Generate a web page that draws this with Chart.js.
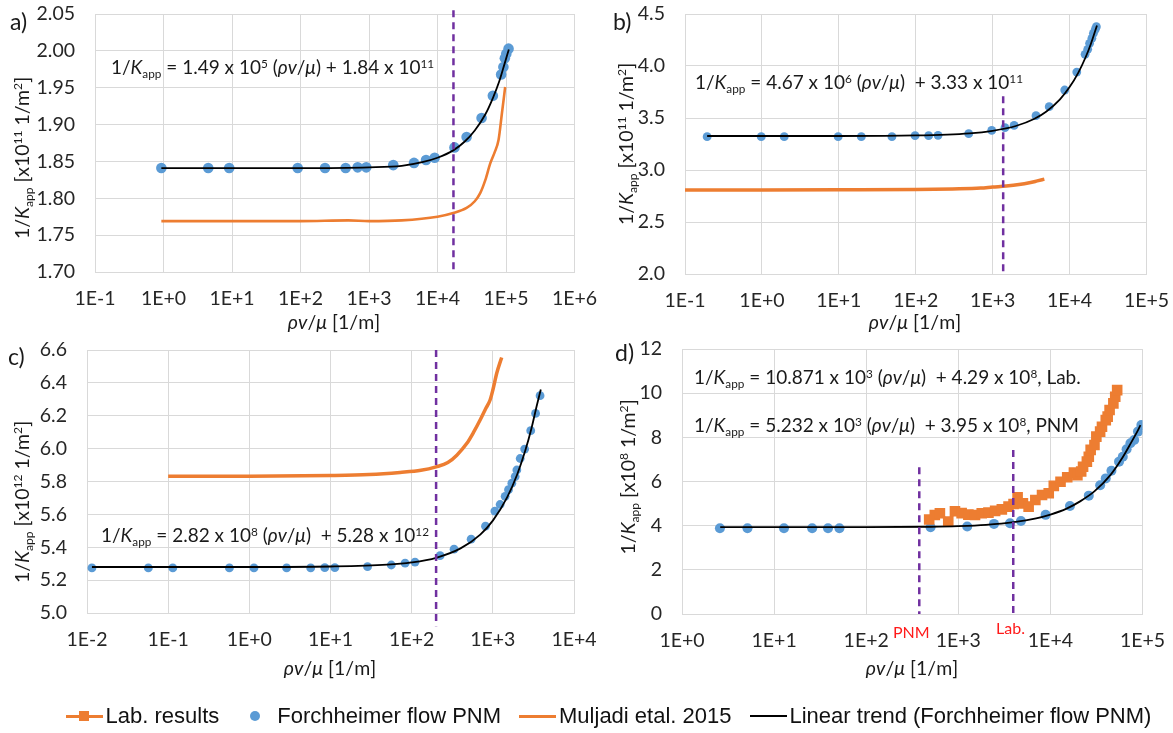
<!DOCTYPE html>
<html>
<head>
<meta charset="utf-8">
<script src="https://cdn.jsdelivr.net/npm/chart.js@4.4.1/dist/chart.umd.min.js"></script>
<style>
  html, body { margin: 0; padding: 0; background: #fff; }
  #page { position: relative; width: 1173px; height: 733px; overflow: hidden;
          font-family: Lato, "Open Sans", sans-serif; color: #1a1a1a; }
  canvas { position: absolute; left: 0; top: 0; }
  .t { position: absolute; white-space: nowrap; line-height: 24px; }
  .eq { font-size: 19px; }
  .lbl { font-size: 23px; }
  .ytitle { font-size: 19.5px; transform: translate(-50%, -50%) rotate(-90deg); }
  .xtitle { font-size: 19.5px; transform: translate(-50%, -50%); }
  .red { color: #ff1a1a; font-size: 16px; }
  .t sub { font-size: 0.62em; position: relative; top: 0.35em; vertical-align: baseline; }
  .t sup { font-size: 0.62em; position: relative; top: -0.55em; vertical-align: baseline; }
  #legend { position: absolute; left: 22px; width: 1173px; top: 700px; height: 32px;
            display: flex; justify-content: center; align-items: center;
            font-family: "Liberation Sans", Arial, sans-serif; font-size: 22px; color: #111; }
  #legend .item { display: flex; align-items: center; margin: 0 9px; }
  #legend .mk { position: relative; width: 37px; height: 14px; margin-right: 3px; }
  #legend .ln { position: absolute; left: 0; right: 0; top: 50%; }
  #legend .sq { position: absolute; left: 13px; top: 2px; width: 10px; height: 10px; background: #ED7D31; }
  #legend .dot { position: absolute; left: 13px; top: 2px; width: 10px; height: 10px; border-radius: 50%; background: #5B9BD5; }
</style>
</head>
<body>
<div id="page">
  <canvas id="ca" width="1173" height="733"></canvas>
  <canvas id="cb" width="1173" height="733"></canvas>
  <canvas id="cc" width="1173" height="733"></canvas>
  <canvas id="cd" width="1173" height="733"></canvas>

  <div class="t lbl" style="left:10px;top:9px;">a)</div>
  <div class="t lbl" style="left:613px;top:9px;">b)</div>
  <div class="t lbl" style="left:8px;top:344px;">c)</div>
  <div class="t lbl" style="left:615px;top:340px;">d)</div>

  <div class="t eq" style="left:111px;top:55px;">1/<i>K</i><sub>app</sub> = 1.49 x 10<sup>5</sup> (<i>ρv</i>/<i>μ</i>) + 1.84 x 10<sup>11</sup></div>
  <div class="t eq" style="left:695px;top:70px;">1/<i>K</i><sub>app</sub> = 4.67 x 10<sup>6</sup> (<i>ρv</i>/<i>μ</i>) &nbsp;+ 3.33 x 10<sup>11</sup></div>
  <div class="t eq" style="left:101px;top:523px;">1/<i>K</i><sub>app</sub> = 2.82 x 10<sup>8</sup> (<i>ρv</i>/<i>μ</i>) &nbsp;+ 5.28 x 10<sup>12</sup></div>
  <div class="t eq" style="left:694px;top:365px;">1/<i>K</i><sub>app</sub> = 10.871 x 10<sup>3</sup> (<i>ρv</i>/<i>μ</i>) &nbsp;+ 4.29 x 10<sup>8</sup>, Lab.</div>
  <div class="t eq" style="left:694px;top:413px;">1/<i>K</i><sub>app</sub> = 5.232 x 10<sup>3</sup> (<i>ρv</i>/<i>μ</i>) &nbsp;+ 3.95 x 10<sup>8</sup>, PNM</div>

  <div class="t ytitle" style="left:23px;top:158px;">1/<i>K</i><sub>app</sub> [x10<sup>11</sup> 1/m<sup>2</sup>]</div>
  <div class="t ytitle" style="left:627px;top:144px;">1/<i>K</i><sub>app</sub> [x10<sup>11</sup> 1/m<sup>2</sup>]</div>
  <div class="t ytitle" style="left:23px;top:502px;">1/<i>K</i><sub>app</sub> [x10<sup>12</sup> 1/m<sup>2</sup>]</div>
  <div class="t ytitle" style="left:629px;top:477px;">1/<i>K</i><sub>app</sub> [x10<sup>8</sup> 1/m<sup>2</sup>]</div>

  <div class="t xtitle" style="left:334px;top:322px;"><i>ρv</i>/<i>μ</i> [1/m]</div>
  <div class="t xtitle" style="left:915px;top:322px;"><i>ρv</i>/<i>μ</i> [1/m]</div>
  <div class="t xtitle" style="left:330px;top:668px;"><i>ρv</i>/<i>μ</i> [1/m]</div>
  <div class="t xtitle" style="left:912px;top:668px;"><i>ρv</i>/<i>μ</i> [1/m]</div>

  <div class="t red" style="left:893px;top:620px;">PNM</div>
  <div class="t red" style="left:996px;top:616px;">Lab.</div>

  <div id="legend">
    <div class="item"><span class="mk"><span class="ln" style="height:3px;margin-top:-1.5px;background:#ED7D31;"></span><span class="sq"></span></span>Lab. results</div>
    <div class="item"><span class="mk"><span class="dot"></span></span>Forchheimer flow PNM</div>
    <div class="item"><span class="mk"><span class="ln" style="height:3px;margin-top:-1.5px;background:#ED7D31;"></span></span>Muljadi etal. 2015</div>
    <div class="item"><span class="mk"><span class="ln" style="height:1.5px;margin-top:-0.75px;background:#000;"></span></span>Linear trend (Forchheimer flow PNM)</div>
  </div>
</div>

<script>
// ---------- panel a ----------
const aXTicks = [0.1, 1, 10, 100, 1e3, 1e4, 1e5, 1e6];
const aXLabels = ['1E-1', '1E+0', '1E+1', '1E+2', '1E+3', '1E+4', '1E+5', '1E+6'];
const aYTicks = [1.70, 1.75, 1.80, 1.85, 1.90, 1.95, 2.00, 2.05];
const aYLabels = ['1.70', '1.75', '1.80', '1.85', '1.90', '1.95', '2.00', '2.05'];
const aPnmX = [0.93, 4.5, 9.1, 91, 228, 456, 683, 912, 2260, 4540, 6800, 9090, 17700, 26600, 44000, 64300, 84900, 91600, 96200, 101000, 109000];
const aPnmY = [1.841, 1.841, 1.841, 1.841, 1.841, 1.841, 1.842, 1.842, 1.845, 1.848, 1.852, 1.855, 1.869, 1.883, 1.909, 1.939, 1.968, 1.978, 1.990, 1.996, 2.003];
const aTrendX = [0.93, 10, 100, 1000, 3000, 6000, 10000, 17000, 25000, 35000, 50000, 65000, 80000, 95000, 110000];
const aTrendY = [1.841, 1.841, 1.841, 1.842, 1.844, 1.849, 1.855, 1.865, 1.877, 1.892, 1.914, 1.937, 1.959, 1.982, 2.002];
const aMuljX = [0.93, 10, 100, 500, 1000, 3000, 10000, 17000, 26600, 35000, 42000, 50000, 58700, 68000, 77800, 87100, 97300];
const aMuljY = [1.769, 1.769, 1.769, 1.770, 1.769, 1.770, 1.775, 1.780, 1.787, 1.796, 1.807, 1.825, 1.847, 1.862, 1.879, 1.915, 1.951];
const aMarkX = [17100, 17100];
const aMarkY = [2.055, 1.70];

// ---------- panel b ----------
const bXTicks = [0.1, 1, 10, 100, 1e3, 1e4, 1e5];
const bXLabels = ['1E-1', '1E+0', '1E+1', '1E+2', '1E+3', '1E+4', '1E+5'];
const bYTicks = [2.0, 2.5, 3.0, 3.5, 4.0, 4.5];
const bYLabels = ['2.0', '2.5', '3.0', '3.5', '4.0', '4.5'];
const bPnmX = [0.194, 0.98, 1.95, 9.8, 19.6, 49, 98, 147, 195, 488, 972, 1445, 1900, 3660, 5430, 8640, 12400, 15900, 17200, 18200, 19500, 20400, 21600, 22300];
const bPnmY = [3.32, 3.32, 3.32, 3.32, 3.32, 3.32, 3.33, 3.33, 3.333, 3.349, 3.381, 3.407, 3.429, 3.522, 3.609, 3.769, 3.942, 4.112, 4.160, 4.218, 4.266, 4.314, 4.353, 4.378];
const bTrendX = [0.194, 10, 100, 500, 1000, 2000, 3500, 5000, 7500, 10000, 13000, 16000, 19000, 22700];
const bTrendY = [3.327, 3.327, 3.332, 3.352, 3.377, 3.423, 3.493, 3.563, 3.680, 3.797, 3.937, 4.077, 4.217, 4.390];
const bMuljX = [0.1, 1, 10, 100, 300, 700, 1000, 1500, 2200, 3000, 3800, 4700];
const bMuljY = [2.808, 2.808, 2.809, 2.812, 2.818, 2.826, 2.836, 2.846, 2.860, 2.877, 2.895, 2.912];
const bMarkX = [1370, 1370];
const bMarkY = [3.71, 2.0];

// ---------- panel c ----------
const cXTicks = [0.01, 0.1, 1, 10, 100, 1e3, 1e4];
const cXLabels = ['1E-2', '1E-1', '1E+0', '1E+1', '1E+2', '1E+3', '1E+4'];
const cYTicks = [5.0, 5.2, 5.4, 5.6, 5.8, 6.0, 6.2, 6.4, 6.6];
const cYLabels = ['5.0', '5.2', '5.4', '5.6', '5.8', '6.0', '6.2', '6.4', '6.6'];
const cPnmX = [0.0115, 0.057, 0.114, 0.568, 1.14, 2.88, 5.7, 8.5, 11.3, 28.6, 56.1, 83, 110, 224, 333, 540, 812, 1059, 1230, 1418, 1560, 1715, 1885, 1977, 2173, 2466, 2930, 3360, 3820];
const cPnmY = [5.274, 5.274, 5.274, 5.274, 5.274, 5.274, 5.274, 5.276, 5.276, 5.282, 5.292, 5.303, 5.310, 5.349, 5.388, 5.449, 5.528, 5.620, 5.660, 5.710, 5.750, 5.790, 5.830, 5.870, 5.940, 5.997, 6.109, 6.214, 6.322];
const cTrendX = [0.0115, 1, 10, 50, 100, 200, 400, 700, 1000, 1500, 2000, 2500, 3000, 3500, 3900];
const cTrendY = [5.280, 5.280, 5.283, 5.294, 5.308, 5.336, 5.393, 5.477, 5.562, 5.703, 5.844, 5.985, 6.126, 6.267, 6.360];
const cMuljX = [0.1, 1, 10, 30, 72, 130, 200, 279, 360, 479, 580, 697, 810, 925, 1004, 1119, 1285];
const cMuljY = [5.832, 5.832, 5.836, 5.842, 5.855, 5.868, 5.889, 5.915, 5.960, 6.032, 6.100, 6.174, 6.240, 6.296, 6.360, 6.460, 6.555];
const cMarkX = [200, 200];
const cMarkY = [6.6, 4.92];

// ---------- panel d ----------
const dXTicks = [1, 10, 100, 1e3, 1e4, 1e5];
const dXLabels = ['1E+0', '1E+1', '1E+2', '1E+3', '1E+4', '1E+5'];
const dYTicks = [0, 2, 4, 6, 8, 10, 12];
const dYLabels = ['0', '2', '4', '6', '8', '10', '12'];
const dPnmX = [2.58, 5.14, 12.8, 25.9, 38.5, 51.2, 500, 1250, 2440, 3640, 4790, 8870, 16300, 26100, 34700, 39900, 46000, 55600, 61100, 67200, 73900, 81200, 89300, 97200];
const dPnmY = [3.88, 3.88, 3.88, 3.88, 3.88, 3.88, 3.93, 3.96, 4.08, 4.11, 4.21, 4.49, 4.89, 5.36, 5.83, 6.14, 6.49, 6.90, 7.12, 7.46, 7.73, 7.88, 8.26, 8.56];
const dTrendX = [2.6, 10, 100, 500, 1000, 2000, 4000, 7000, 10000, 15000, 21000, 30000, 45000, 60000, 75000, 90000, 95000];
const dTrendY = [3.93, 3.93, 3.93, 3.95, 3.98, 4.04, 4.16, 4.33, 4.50, 4.77, 5.10, 5.55, 6.30, 7.05, 7.75, 8.35, 8.55];
const dLabX = [483, 556, 631, 778, 920, 1087, 1286, 1520, 1797, 2125, 2512, 2970, 3511, 3981, 4404, 5029, 5803, 6862, 8113, 9592, 10890, 12880, 15230, 18010, 19640, 21590, 22630, 24890, 26110, 27360, 30090, 31540, 34670, 36310, 39920, 41860, 43930, 48270, 50580, 53080];
const dLabY = [4.28, 4.48, 4.56, 4.19, 4.65, 4.57, 4.50, 4.48, 4.56, 4.59, 4.67, 4.74, 4.86, 4.98, 5.28, 5.01, 4.86, 5.16, 5.39, 5.47, 5.80, 5.99, 6.19, 6.40, 6.29, 6.45, 6.67, 6.90, 7.12, 7.43, 7.65, 8.03, 8.26, 8.48, 8.78, 8.94, 9.24, 9.54, 9.84, 10.14];
const dMarkPnmX = [377, 377];
const dMarkPnmY = [6.64, 0];
const dMarkLabX = [3950, 3950];
const dMarkLabY = [7.43, 0];

// ---------- styling ----------
const BLUE = '#5B9BD5', ORANGE = '#ED7D31', PURPLE = '#7030A0';
const GRID = '#d9d9d9', TICK = '#262626';
const TICK_FONT = { family: 'Lato, "Open Sans", sans-serif', size: 19.5 };

function pts(xs, ys) { return xs.map((x, i) => ({ x: x, y: ys[i] })); }

function pnmSet(xs, ys, r) {
  return { data: pts(xs, ys), showLine: false, pointRadius: r, pointBackgroundColor: BLUE,
           pointBorderWidth: 0, order: 5 };
}
function lineSet(xs, ys, color, w, order) {
  return { data: pts(xs, ys), showLine: true, borderColor: color, borderWidth: w, pointRadius: 0,
           cubicInterpolationMode: 'monotone', order: order };
}
function markSet(xs, ys) {
  return { data: pts(xs, ys), showLine: true, borderColor: PURPLE, borderWidth: 2.5,
           borderDash: [7, 5], pointRadius: 0, clip: false, order: 0 };
}

// one panel: the plot area sits exactly in box (page pixels)
function panel(id, box, xT, xL, yT, yL, sets) {
  const yW = 80, xH = 40;
  return new Chart(document.getElementById(id), {
    type: 'scatter',
    data: { datasets: sets },
    options: {
      responsive: false, animation: false, devicePixelRatio: 1, events: [],
      layout: { padding: { left: box.l - yW, top: box.t, right: 1173 - box.r, bottom: 733 - box.b - xH } },
      plugins: { legend: { display: false }, tooltip: { enabled: false } },
      scales: {
        x: {
          type: 'logarithmic', position: 'bottom', min: xT[0], max: xT[xT.length - 1],
          afterBuildTicks: s => { s.ticks = xT.map(v => ({ value: v })); },
          afterFit: s => { s.height = xH; s.paddingLeft = 0; s.paddingRight = 0; },
          ticks: { autoSkip: false, maxRotation: 0, minRotation: 0, padding: 15, color: TICK,
                   font: TICK_FONT, callback: (v, i) => xL[i] },
          grid: { color: GRID, lineWidth: 1, drawTicks: false },
          border: { color: GRID, width: 1 }
        },
        y: {
          type: 'linear', min: yT[0], max: yT[yT.length - 1],
          afterBuildTicks: s => { s.ticks = yT.map(v => ({ value: v })); },
          afterFit: s => { s.width = yW; s.paddingTop = 0; s.paddingBottom = 0; },
          ticks: { autoSkip: false, padding: 20, color: TICK, font: TICK_FONT, callback: (v, i) => yL[i] },
          grid: { color: GRID, lineWidth: 1, drawTicks: false },
          border: { color: GRID, width: 1 }
        }
      }
    }
  });
}

panel('ca', { l: 95, t: 14, r: 574.5, b: 272 }, aXTicks, aXLabels, aYTicks, aYLabels, [
  markSet(aMarkX, aMarkY),
  lineSet(aTrendX, aTrendY, '#000', 1.8, 1),
  lineSet(aMuljX, aMuljY, ORANGE, 2.6, 2),
  pnmSet(aPnmX, aPnmY, 5.3)
]);

panel('cb', { l: 685, t: 14, r: 1146.5, b: 274 }, bXTicks, bXLabels, bYTicks, bYLabels, [
  markSet(bMarkX, bMarkY),
  lineSet(bTrendX, bTrendY, '#000', 1.8, 1),
  lineSet(bMuljX, bMuljY, ORANGE, 3.5, 2),
  pnmSet(bPnmX, bPnmY, 4.4)
]);

panel('cc', { l: 87, t: 350, r: 574, b: 613 }, cXTicks, cXLabels, cYTicks, cYLabels, [
  markSet(cMarkX, cMarkY),
  lineSet(cTrendX, cTrendY, '#000', 1.8, 1),
  lineSet(cMuljX, cMuljY, ORANGE, 3.5, 2),
  pnmSet(cPnmX, cPnmY, 4.4)
]);

panel('cd', { l: 682, t: 349, r: 1142.5, b: 614 }, dXTicks, dXLabels, dYTicks, dYLabels, [
  markSet(dMarkPnmX, dMarkPnmY),
  markSet(dMarkLabX, dMarkLabY),
  lineSet(dTrendX, dTrendY, '#000', 1.8, 1),
  { data: pts(dLabX, dLabY), showLine: true, borderColor: ORANGE, borderWidth: 3,
    pointStyle: 'rect', pointRadius: 7.5, pointBackgroundColor: ORANGE, pointBorderWidth: 0, order: 3 },
  pnmSet(dPnmX, dPnmY, 5)
]);
</script>
</body>
</html>
